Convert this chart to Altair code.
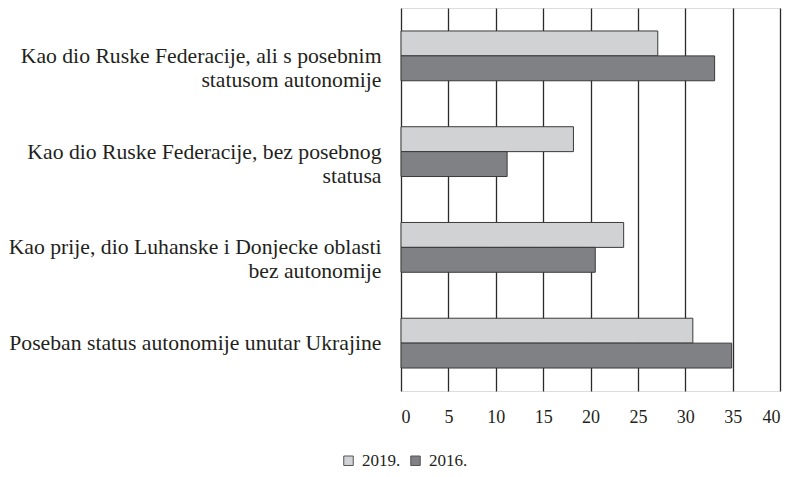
import altair as alt
import pandas as pd

categories = [
    "Kao dio Ruske Federacije, ali s posebnim\nstatusom autonomije",
    "Kao dio Ruske Federacije, bez posebnog\nstatusa",
    "Kao prije, dio Luhanske i Donjecke oblasti\nbez autonomije",
    "Poseban status autonomije unutar Ukrajine",
]
years = ["2019.", "2016."]
values_2019 = [27.1, 18.2, 23.5, 30.8]
values_2016 = [33.1, 11.2, 20.5, 34.9]
colors = ["#d1d2d4", "#808184"]

rows = []
for c, a, b in zip(categories, values_2019, values_2016):
    rows.append({"category": c, "year": years[0], "value": a})
    rows.append({"category": c, "year": years[1], "value": b})
df = pd.DataFrame(rows)

font = "Liberation Serif"

chart = alt.Chart(df).mark_bar(stroke="#3a3a3a", strokeWidth=1).encode(
    y=alt.Y("category:N", sort=categories, title=None,
            scale=alt.Scale(paddingInner=0.48, paddingOuter=0.24),
            axis=alt.Axis(domain=False, ticks=False, labelPadding=20,
                          labelFontSize=21.7, labelLineHeight=24, labelFont=font,
                          labelColor="#231f20", labelLimit=600,
                          labelExpr="split(datum.label, '\\n')")),
    yOffset=alt.YOffset("year:N", sort=years),
    x=alt.X("value:Q", title=None,
            scale=alt.Scale(domain=[0, 40]),
            axis=alt.Axis(values=[0, 5, 10, 15, 20, 25, 30, 35, 40], domain=False, ticks=False,
                          grid=True, gridColor="#2a2a2a", gridWidth=1.3,
                          labelPadding=17, labelFontSize=18, labelFont=font,
                          labelColor="#231f20")),
    color=alt.Color("year:N", sort=years,
                    scale=alt.Scale(domain=years, range=colors),
                    legend=alt.Legend(title=None, orient="none", legendX=-61, legendY=444,
                                      direction="horizontal", symbolType="square",
                                      symbolSize=90, symbolStrokeColor="#555",
                                      symbolStrokeWidth=1, labelFontSize=17,
                                      labelFont=font, labelColor="#231f20",
                                      columnPadding=6, labelOffset=5)),
).properties(width=379, height=383, padding={"left": 0, "top": 0, "right": 5, "bottom": 5}).configure_view(
    stroke=None
).configure(background="white")

chart.save("out.html", embed_options={"renderer": "svg", "actions": False})
